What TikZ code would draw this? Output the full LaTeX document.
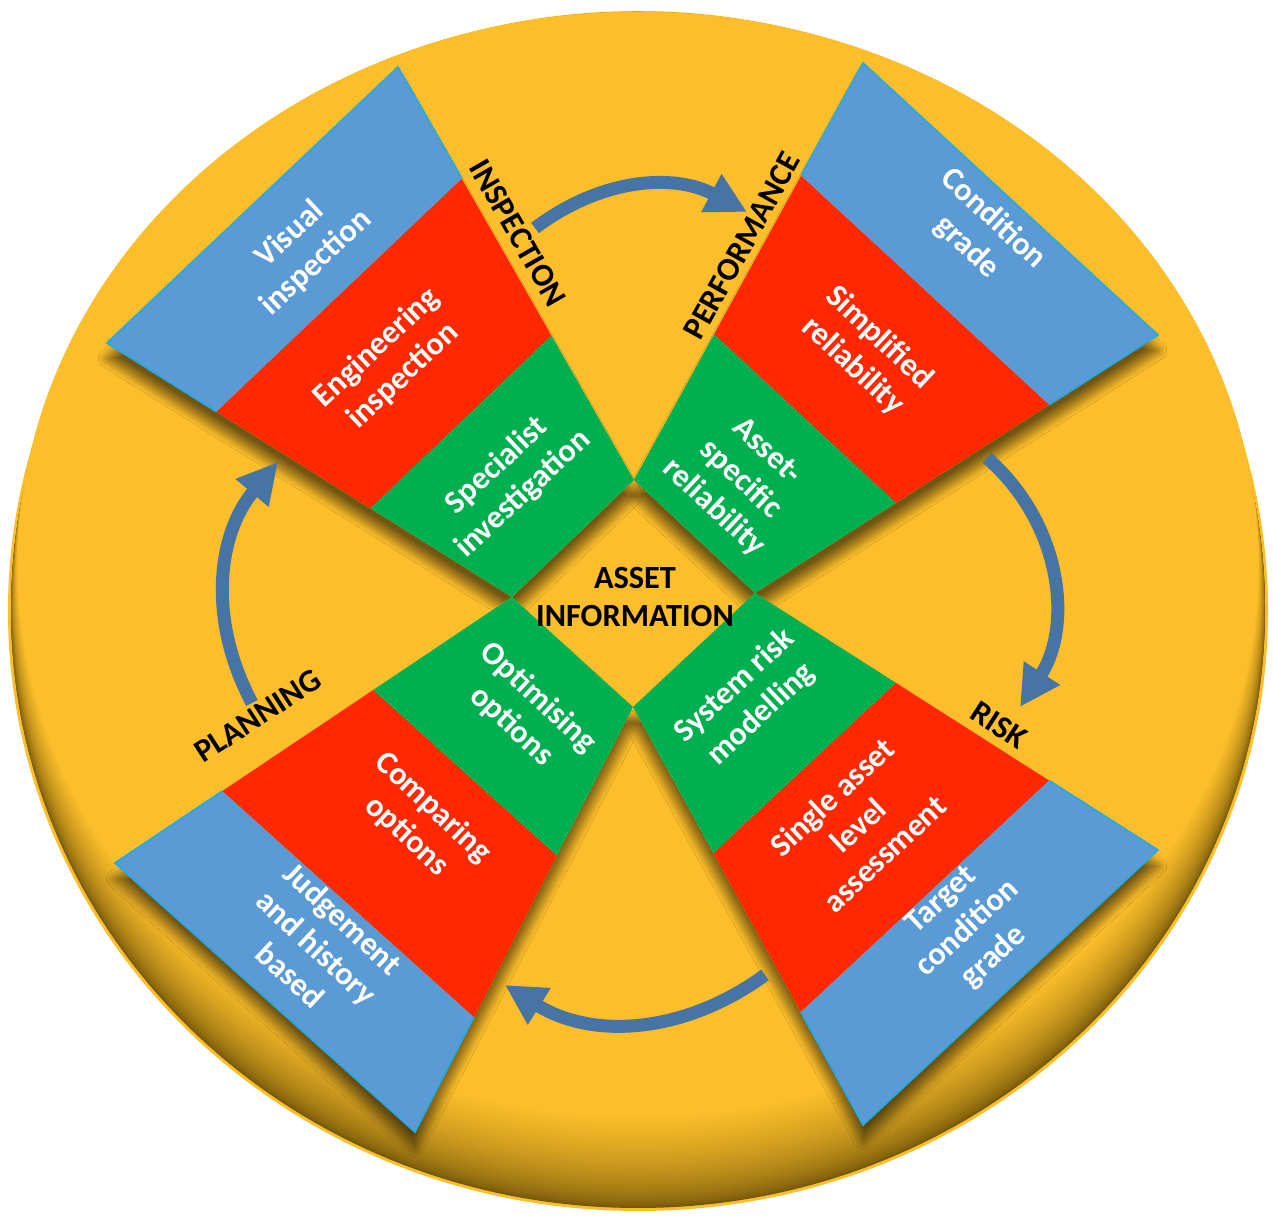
\documentclass[tikz,border=0pt]{standalone}
\usepackage{fontspec}
\setmainfont{Carlito}
\usetikzlibrary{calc,arrows.meta,shadows.blur}

\definecolor{discyellow}{RGB}{252,190,42}
\definecolor{discdark}{RGB}{112,84,8}
\definecolor{bandblue}{RGB}{91,155,213}
\definecolor{bandrim}{RGB}{40,170,225}
\definecolor{bandred}{RGB}{255,40,0}
\definecolor{bandgreen}{RGB}{0,176,80}
\definecolor{loopblue}{RGB}{70,117,165}

\tikzset{
  bandtext/.style={text=white, font=\fontsize{9.2}{11}\selectfont\bfseries, align=center},
  steplabel/.style={text=black, font=\fontsize{9.2}{11}\selectfont\bfseries},
  looparrow/.style={draw=loopblue, line width=3.7pt, -{Triangle[length=11.5pt,width=11.5pt]}},
  wedgeshadow/.style={fill=discyellow, blur shadow={shadow xshift=0pt, shadow yshift=-4.5pt,
      shadow blur radius=2.5pt, shadow blur steps=12, shadow opacity=55}}
}

\begin{document}
\begin{tikzpicture}
  \useasboundingbox (0,0) rectangle (12.73,12.18);

  % Disc, darker towards its lower rim
  \fill[discyellow] (6.38,6.07) ellipse [x radius=6.30, y radius=6.00];
  \fill[discdark] (6.38,6.08) ellipse [x radius=6.27, y radius=5.98];
  \foreach \i in {1,...,30} {
    \pgfmathsetmacro\s{0.45*(\i/30)^1.4}
    \pgfmathsetmacro\c{100*(\i/30)^0.8}
    \fill[discyellow!\c!discdark] (6.38,6.08+\s) ellipse [x radius=6.27-0.15*\s, y radius=5.98-\s];
  }

  % Wedge corners: outer edge o1-o2, inner edge i1-i2
  \coordinate (ul-o1) at (1.07,8.75);
  \coordinate (ul-o2) at (3.98,11.51);
  \coordinate (ul-i2) at (6.34,7.38);
  \coordinate (ul-i1) at (5.12,6.21);
  \coordinate (ur-o1) at (8.63,11.55);
  \coordinate (ur-o2) at (11.58,8.83);
  \coordinate (ur-i2) at (7.55,6.25);
  \coordinate (ur-i1) at (6.34,7.38);
  \coordinate (lr-o1) at (11.58,3.68);
  \coordinate (lr-o2) at (8.63,0.93);
  \coordinate (lr-i2) at (6.33,5.11);
  \coordinate (lr-i1) at (7.55,6.25);
  \coordinate (ll-o1) at (4.15,0.86);
  \coordinate (ll-o2) at (1.15,3.55);
  \coordinate (ll-i2) at (5.12,6.21);
  \coordinate (ll-i1) at (6.33,5.11);

  % Shadows under the wedges
  \foreach \w in {ul,ur,lr,ll}
    \path[wedgeshadow] (\w-o1) -- (\w-o2) -- (\w-i2) -- (\w-i1) -- cycle;

  % Green, red and blue bands
  \foreach \w in {ul,ur,lr,ll} {
    \fill[bandgreen] ($(\w-o1)!.65!(\w-i1)$) -- ($(\w-o2)!.65!(\w-i2)$) -- (\w-i2) -- (\w-i1) -- cycle;
    \fill[bandred] ($(\w-o1)!.27!(\w-i1)$) -- ($(\w-o2)!.27!(\w-i2)$)
      -- ($(\w-o2)!.65!(\w-i2)$) -- ($(\w-o1)!.65!(\w-i1)$) -- cycle;
    \fill[bandblue] (\w-o1) -- (\w-o2) -- ($(\w-o2)!.27!(\w-i2)$) -- ($(\w-o1)!.27!(\w-i1)$) -- cycle;
    \draw[bandrim, line width=0.5pt] ($(\w-o1)!.27!(\w-i1)$) -- (\w-o1) -- (\w-o2) -- ($(\w-o2)!.27!(\w-i2)$);
  }

  % Inspection
  \node[bandtext, rotate=43] (visual) at (3.03,9.69) {Visual\\inspection};
  \node[bandtext, rotate=43] (enginsp) at (3.90,8.56) {Engineering\\inspection};
  \node[bandtext, rotate=43] (specinv) at (5.10,7.38) {Specialist\\investigation};
  % Performance
  \node[bandtext, rotate=-43] (condgrade) at (9.80,9.85) {Condition\\grade};
  \node[bandtext, rotate=-43] (simprel) at (8.66,8.66) {Simplified\\reliability};
  \node[bandtext, rotate=-43] (assetrel) at (7.40,7.38) {Asset-\\specific\\reliability};
  % Risk
  \node[bandtext, rotate=43] (sysrisk) at (7.48,5.18) {System risk\\modelling};
  \node[bandtext, rotate=43] (singleasset) at (8.58,3.93) {Single asset\\level\\assessment};
  \node[bandtext, rotate=43] (targetgrade) at (9.68,2.89) {Target\\condition\\grade};
  % Planning
  \node[bandtext, rotate=-43] (optopt) at (5.25,5.06) {Optimising\\options};
  \node[bandtext, rotate=-43] (compopt) at (4.20,3.96) {Comparing\\options};
  \node[bandtext, rotate=-43] (judgement) at (3.17,2.71) {Judgement\\and history\\based};

  % Stage labels
  \node[steplabel, rotate=-60] (inspection) at (5.18,9.85) {INSPECTION};
  \node[steplabel, rotate=61] (performance) at (7.42,9.72) {PERFORMANCE};
  \node[steplabel, rotate=-33] (risk) at (9.99,4.93) {RISK};
  \node[steplabel, rotate=33] (planning) at (2.58,5.02) {PLANNING};
  \node[steplabel, align=center] (assetinfo) at (6.35,6.21) {ASSET\\INFORMATION};

  % Cycle arrows
  \coordinate (insp-out) at (5.35,9.90);
  \coordinate (perf-in) at (7.47,10.06);
  \coordinate (perf-out) at (9.87,7.60);
  \coordinate (risk-in) at (10.20,5.11);
  \coordinate (risk-out) at (7.65,2.43);
  \coordinate (plan-in) at (5.05,2.33);
  \coordinate (plan-out) at (2.52,5.15);
  \coordinate (insp-in) at (2.78,7.56);
  \draw[looparrow] (insp-out) to[out=37,in=152] (perf-in);
  \draw[looparrow] (perf-out) to[out=-41,in=57] (risk-in);
  \draw[looparrow] (risk-out) to[out=216,in=-32] (plan-in);
  \draw[looparrow] (plan-out) to[out=118,in=230] (insp-in);
\end{tikzpicture}
\end{document}
